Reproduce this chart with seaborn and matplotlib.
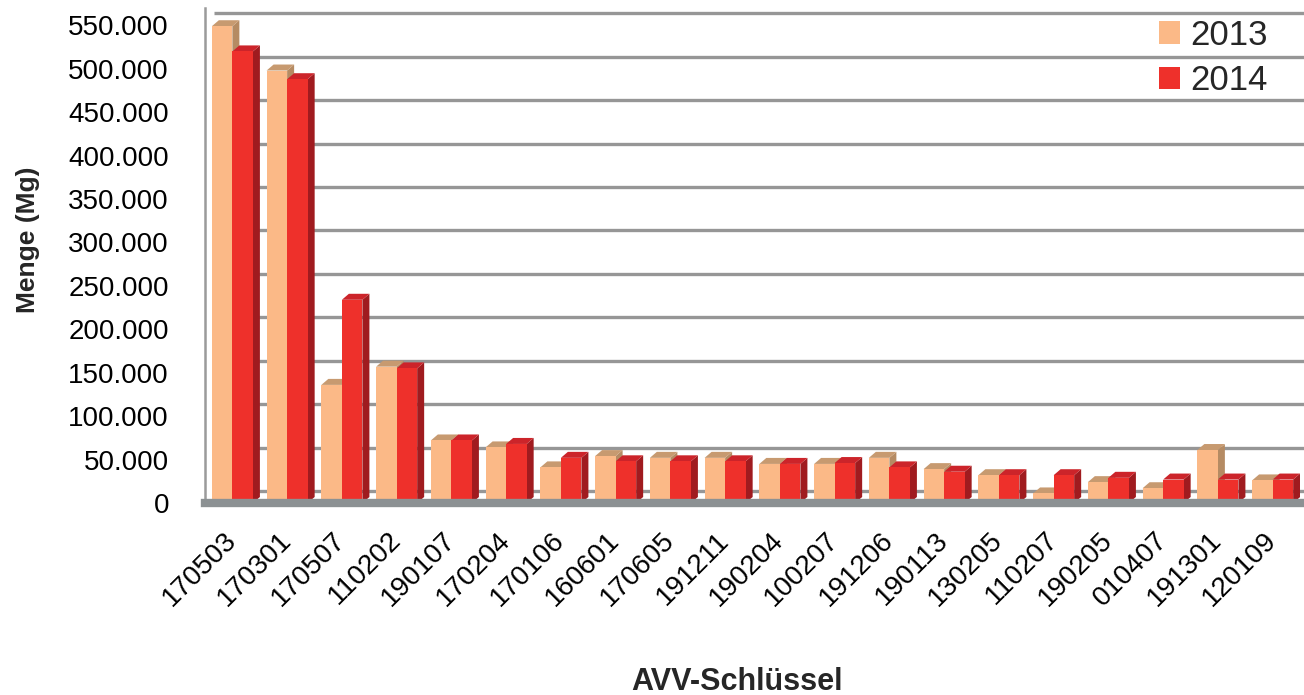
# IMPORTS
import pandas as pd
import seaborn as sns
import matplotlib.pyplot as plt
from matplotlib.patches import Polygon
from matplotlib.ticker import FuncFormatter, MultipleLocator
from matplotlib.transforms import offset_copy

# DATA (Mg)
avv_keys = ['170503', '170301', '170507', '110202', '190107', '170204', '170106',
            '160601', '170605', '191211', '190204', '100207', '191206', '190113',
            '130205', '110207', '190205', '010407', '191301', '120109']
menge_2013 = [549000, 498000, 136000, 157000, 72000, 64000, 41000,
              54000, 52000, 52000, 45000, 45000, 52000, 39000,
              32000, 11000, 24000, 17000, 61000, 26000]
menge_2014 = [520000, 488000, 234000, 155000, 72000, 68000, 52000,
              48000, 48000, 48000, 45000, 46000, 41000, 36000,
              32000, 32000, 29000, 27000, 27000, 27000]
years = ['2013', '2014']
y_ticks = list(range(0, 550001, 50000))

df = pd.DataFrame({
    'key': avv_keys * 2,
    'year': [years[0]] * len(avv_keys) + [years[1]] * len(avv_keys),
    'menge': menge_2013 + menge_2014,
})

# STYLE
sns.set_style('white')
plt.rcParams['font.family'] = ['Liberation Sans', 'DejaVu Sans']

front = {'2013': '#FBB987', '2014': '#EE302B'}
side = {'2013': '#B58B63', '2014': '#A01B1F'}
top = {'2013': '#C79A70', '2014': '#CC242A'}

fig = plt.figure(figsize=(13.04, 6.95), dpi=100)
ax = fig.add_axes([205 / 1304, 1 - 503 / 695, 1095 / 1304, 495 / 695])

sns.barplot(data=df, x='key', y='menge', hue='year', palette=front,
            width=0.75, saturation=1, linewidth=0, ax=ax)

ax.set_xlim(-0.5, len(avv_keys) - 0.5)
ax.set_ylim(0, 570000)

# back wall grid lines, shifted up/right like the 3D chart
grid_tr = offset_copy(ax.transData, fig=fig, x=9, y=12, units='dots')
ax.hlines(y_ticks, -0.5, len(avv_keys) - 0.5, colors='#969696', linewidth=2.4,
          transform=grid_tr, zorder=0.5, clip_on=False)

# fake 3D depth on each bar
px = ax.transData.transform([(0, 0), (1, 1000)])
dx = 7 / (px[1][0] - px[0][0])
dy = 6 / ((px[1][1] - px[0][1]) / 1000)
for year, cont in zip(years, ax.containers):
    for bar in cont:
        x0, w, h = bar.get_x(), bar.get_width(), bar.get_height()
        x1 = x0 + w
        ax.add_patch(Polygon([(x1, 0), (x1 + dx, dy), (x1 + dx, h + dy), (x1, h)],
                             facecolor=side[year], edgecolor='none', zorder=0.9))
        ax.add_patch(Polygon([(x0, h), (x1, h), (x1 + dx, h + dy), (x0 + dx, h + dy)],
                             facecolor=top[year], edgecolor='none', zorder=0.9))

# axes styling
sns.despine(ax=ax, top=True, right=True)
ax.spines['left'].set_color('#9B9B9B')
ax.spines['left'].set_linewidth(1.8)
ax.spines['bottom'].set_color('#8C9193')
ax.spines['bottom'].set_linewidth(6)

ax.yaxis.set_major_locator(MultipleLocator(50000))
ax.yaxis.set_major_formatter(FuncFormatter(lambda v, p: f'{int(v):,}'.replace(',', '.')))
ax.tick_params(axis='y', length=5, width=1.5, color='#9B9B9B', pad=21,
               labelsize=20, labelcolor='black')
ax.tick_params(axis='x', length=0, pad=24, labelsize=20, labelcolor='black')
for lbl in ax.get_xticklabels():
    lbl.set_rotation(45)
    lbl.set_ha('right')
    lbl.set_va('center')
    lbl.set_rotation_mode('anchor')

ax.set_xlabel('')
ax.set_ylabel('')
fig.text(28 / 1304, 1 - 240 / 695, 'Menge (Mg)', rotation=90, ha='center',
         va='center', fontsize=19, fontweight='bold')
fig.text(737 / 1304, 1 - 682 / 695, 'AVV-Schlüssel', ha='center', va='center',
         fontsize=22, fontweight='bold')

handles, labels = ax.get_legend_handles_labels()
ax.legend(handles, labels, loc='upper right', bbox_to_anchor=(0.99, 1.02),
          frameon=False, fontsize=25, handlelength=0.62, handleheight=0.62,
          handletextpad=0.3, labelspacing=0.35, borderaxespad=0.2)

fig.savefig('out.png', dpi=100)
